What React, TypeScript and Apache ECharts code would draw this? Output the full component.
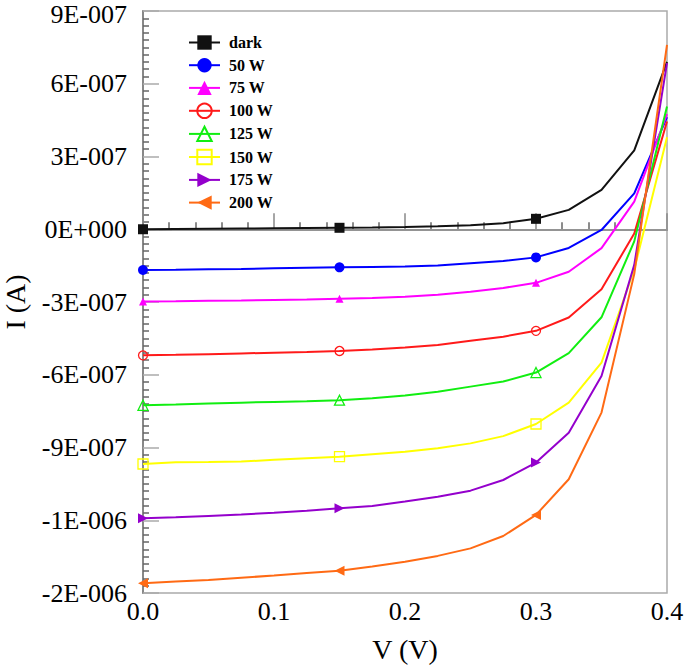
import React, { useEffect, useRef } from "react";
import * as echarts from "echarts";

// Voltage (V)
const voltage = [0, 0.025, 0.05, 0.075, 0.1, 0.125, 0.15, 0.175, 0.2, 0.225, 0.25, 0.275, 0.3, 0.325, 0.35, 0.375, 0.4];

// Current (A) per illumination
const dark = [0, 1e-9, 2e-9, 3e-9, 4e-9, 5e-9, 6e-9, 7e-9, 9e-9, 1.2e-8, 1.6e-8, 2.5e-8, 4.3e-8, 8.0e-8, 1.62e-7, 3.25e-7, 6.9e-7];
const w50 = [-1.68e-7, -1.67e-7, -1.65e-7, -1.64e-7, -1.61e-7, -1.59e-7, -1.57e-7, -1.555e-7, -1.54e-7, -1.49e-7, -1.40e-7, -1.31e-7, -1.16e-7, -7.7e-8, -3e-9, 1.48e-7, 4.62e-7];
const w75 = [-2.98e-7, -2.97e-7, -2.95e-7, -2.94e-7, -2.92e-7, -2.90e-7, -2.87e-7, -2.84e-7, -2.78e-7, -2.70e-7, -2.58e-7, -2.42e-7, -2.21e-7, -1.75e-7, -7.8e-8, 1.14e-7, 4.75e-7];
const w100 = [-5.20e-7, -5.18e-7, -5.15e-7, -5.12e-7, -5.09e-7, -5.06e-7, -5.02e-7, -4.96e-7, -4.88e-7, -4.77e-7, -4.60e-7, -4.43e-7, -4.19e-7, -3.64e-7, -2.47e-7, -1.8e-8, 4.44e-7];
const w125 = [-7.26e-7, -7.23e-7, -7.19e-7, -7.15e-7, -7.12e-7, -7.09e-7, -7.05e-7, -6.97e-7, -6.86e-7, -6.70e-7, -6.49e-7, -6.28e-7, -5.91e-7, -5.11e-7, -3.63e-7, -5.0e-8, 5.06e-7];
const w150 = [-9.68e-7, -9.61e-7, -9.60e-7, -9.58e-7, -9.51e-7, -9.44e-7, -9.38e-7, -9.28e-7, -9.18e-7, -9.03e-7, -8.83e-7, -8.53e-7, -8.03e-7, -7.15e-7, -5.50e-7, -1.66e-7, 3.79e-7];
const w175 = [-1.192e-6, -1.188e-6, -1.182e-6, -1.176e-6, -1.169e-6, -1.161e-6, -1.151e-6, -1.141e-6, -1.123e-6, -1.103e-6, -1.078e-6, -1.034e-6, -9.62e-7, -8.39e-7, -6.05e-7, -1.47e-7, 6.85e-7];
const w200 = [-1.460e-6, -1.453e-6, -1.446e-6, -1.437e-6, -1.428e-6, -1.418e-6, -1.408e-6, -1.391e-6, -1.371e-6, -1.347e-6, -1.316e-6, -1.265e-6, -1.178e-6, -1.031e-6, -7.56e-7, -1.85e-7, 7.60e-7];

const seriesNames = ["dark", "50 W", "75 W", "100 W", "125 W", "150 W", "175 W", "200 W"];
const seriesValues = [dark, w50, w75, w100, w125, w150, w175, w200];

const yTickLabels = ["-2E-006", "-1E-006", "-9E-007", "-6E-007", "-3E-007", "0E+000", "3E-007", "6E-007", "9E-007"];
const xTickLabels = ["0.0", "0.1", "0.2", "0.3", "0.4"];

const colors = ["#111111", "#0000ff", "#ff00ff", "#ff1a1a", "#11ee11", "#ffff00", "#9400cc", "#ff6a14"];
const symbols = ["rect", "circle", "triangle", "circle", "triangle", "rect", "triangle", "triangle"];
const rotations = [0, 0, 0, 0, 0, 0, -90, 90];
const hollow = [false, false, false, true, true, true, false, false];
const sizes = [10, 10, 8, 9, 10, 10, 10, 10];

const FONT = "'Liberation Serif', 'DejaVu Serif', serif";

export default function App() {
  const ref = useRef<HTMLDivElement>(null);
  useEffect(() => {
    if (!ref.current) return;
    const chart = echarts.init(ref.current, null, { renderer: "svg" });
    const yMin = -1.5e-6;
    const yStep = 3e-7;
    const series: any[] = seriesNames.map((name, k) => ({
      name,
      type: "line",
      data: voltage.map((v, i) => [v, seriesValues[k][i]]),
      symbol: symbols[k],
      symbolRotate: rotations[k],
      symbolSize: (_v: any, p: any) => (p.dataIndex % 6 === 0 ? sizes[k] : 0),
      showAllSymbol: true,
      lineStyle: { color: colors[k], width: 2 },
      itemStyle: hollow[k]
        ? { color: "rgba(255,255,255,0)", borderColor: colors[k], borderWidth: 1.3 }
        : { color: colors[k] },
      emphasis: { disabled: true },
      z: 3,
      markLine:
        k === 0
          ? {
              silent: true,
              symbol: "none",
              label: { show: false },
              lineStyle: { color: "#999", width: 1.5, type: "solid" },
              data: [{ yAxis: 0 }],
              z: 2,
            }
          : undefined,
    }));
    chart.setOption({
      animation: false,
      backgroundColor: "#fff",
      textStyle: { fontFamily: FONT },
      grid: {
        left: 143,
        right: 18,
        top: 11,
        bottom: 78,
        containLabel: false,
        outerBoundsMode: "none",
        show: true,
        borderColor: "#aaa",
        borderWidth: 1.5,
        backgroundColor: "transparent",
      },
      legend: {
        orient: "vertical",
        left: 188,
        top: 34.5,
        padding: 0,
        itemWidth: 31,
        itemHeight: 18,
        itemGap: 6.7,
        data: seriesNames,
        textStyle: {
          fontFamily: FONT,
          fontWeight: "bold",
          fontSize: 16,
          color: "#000",
          padding: [0, 0, 0, 4],
        },
      },
      xAxis: {
        type: "value",
        min: 0,
        max: 0.4,
        interval: 0.1,
        name: "V (V)",
        nameLocation: "middle",
        nameGap: 42,
        nameTextStyle: { fontFamily: FONT, fontSize: 28, color: "#000" },
        axisLine: { show: true, lineStyle: { color: "#888", width: 2 } },
        axisTick: { show: true, inside: true, length: 16, lineStyle: { color: "#888", width: 1.5 } },
        minorTick: { show: true, splitNumber: 5, length: 7, lineStyle: { color: "#666", width: 1.5 } },
        splitLine: { show: false },
        axisLabel: {
          fontFamily: FONT,
          fontSize: 26,
          color: "#000",
          margin: 5,
          formatter: (v: number) => xTickLabels[Math.round(v / 0.1)] ?? "",
        },
      },
      yAxis: {
        type: "value",
        min: yMin,
        max: 9e-7,
        interval: yStep,
        name: "I (A)",
        nameLocation: "middle",
        nameGap: 114,
        nameTextStyle: { fontFamily: FONT, fontSize: 28, color: "#000" },
        axisLine: { show: true, lineStyle: { color: "#888", width: 2 } },
        axisTick: { show: true, inside: true, length: 16, lineStyle: { color: "#aaa", width: 1.5 } },
        minorTick: { show: true, splitNumber: 10, length: 6, lineStyle: { color: "#666", width: 1.5 } },
        splitLine: { show: false },
        axisLabel: {
          fontFamily: FONT,
          fontSize: 26,
          lineHeight: 20,
          color: "#000",
          margin: 16,
          formatter: (v: number) => {
            const idx = Math.round((v - yMin) / yStep);
            const s = yTickLabels[idx] ?? "";
            return idx === yTickLabels.length - 1 ? `{t|${s}}` : s;
          },
          rich: {
            t: {
              fontFamily: FONT,
              fontSize: 26,
              lineHeight: 20,
              color: "#000",
              padding: [6, 0, 0, 0],
            },
          },
        },
      },
      series,
    });
    return () => chart.dispose();
  }, []);
  return (
    <div
      ref={ref}
      style={{ position: "fixed", left: 0, top: 0, width: 685, height: 671, background: "#fff" }}
    />
  );
}
